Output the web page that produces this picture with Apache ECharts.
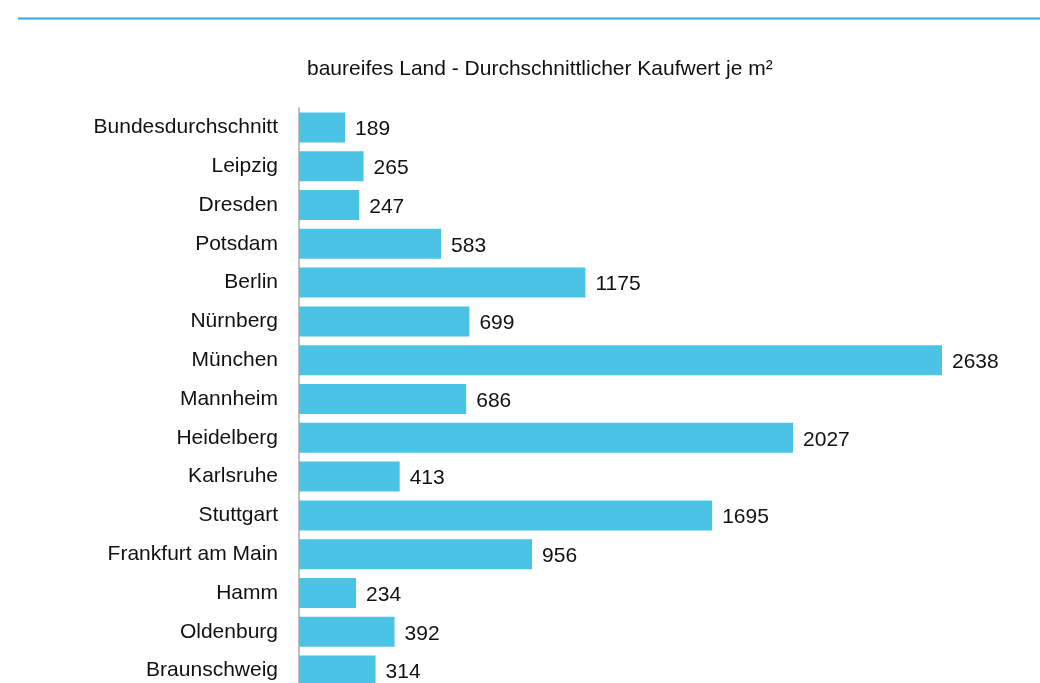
<!DOCTYPE html>
<html>
<head>
<meta charset="utf-8">
<script src="https://cdn.jsdelivr.net/npm/echarts@6/dist/echarts.min.js"></script>
<style>
  html, body { margin: 0; padding: 0; background: #fff; }
  #chart { width: 1040px; height: 683px; }
</style>
</head>
<body>
<div id="chart"></div>
<script>
// Städte (von oben nach unten)
const cities = ['Bundesdurchschnitt', 'Leipzig', 'Dresden', 'Potsdam', 'Berlin', 'Nürnberg', 'München',
  'Mannheim', 'Heidelberg', 'Karlsruhe', 'Stuttgart', 'Frankfurt am Main', 'Hamm', 'Oldenburg', 'Braunschweig'];
// Durchschnittlicher Kaufwert je m²
const prices = [189, 265, 247, 583, 1175, 699, 2638, 686, 2027, 413, 1695, 956, 234, 392, 314];
const chartTitle = 'baureifes Land - Durchschnittlicher Kaufwert je m²';

const chart = echarts.init(document.getElementById('chart'));
const font = 'Liberation Sans, Arial, sans-serif';

chart.setOption({
  animation: false,
  title: {
    text: chartTitle,
    left: 302,
    top: 54,
    textStyle: { fontFamily: font, fontSize: 21, fontWeight: 'normal', color: '#111' }
  },
  graphic: [{
    type: 'line',
    shape: { x1: 18, y1: 18.5, x2: 1040, y2: 18.5 },
    style: { stroke: '#2aa9d9', lineWidth: 2 }
  }],
  // Diagramm läuft unten über den Rand hinaus
  grid: { left: 299, top: 108, width: 643, height: 582, outerBoundsMode: 'none', containLabel: false },
  xAxis: {
    type: 'value',
    min: 0,
    max: 2638,
    show: false
  },
  yAxis: {
    type: 'category',
    data: cities,
    inverse: true,
    axisLine: { show: true, lineStyle: { color: '#aaa', width: 1.5 } },
    axisTick: { show: false },
    axisLabel: { fontFamily: font, fontSize: 21, color: '#111', margin: 21, padding: [2, 0, 0, 0] }
  },
  series: [{
    type: 'bar',
    data: prices,
    barWidth: 30,
    itemStyle: { color: '#4ac3e4' },
    label: {
      show: true,
      position: 'right',
      distance: 10,
      fontFamily: font,
      fontSize: 21,
      color: '#111',
      offset: [0, 2]
    }
  }]
});
</script>
</body>
</html>
